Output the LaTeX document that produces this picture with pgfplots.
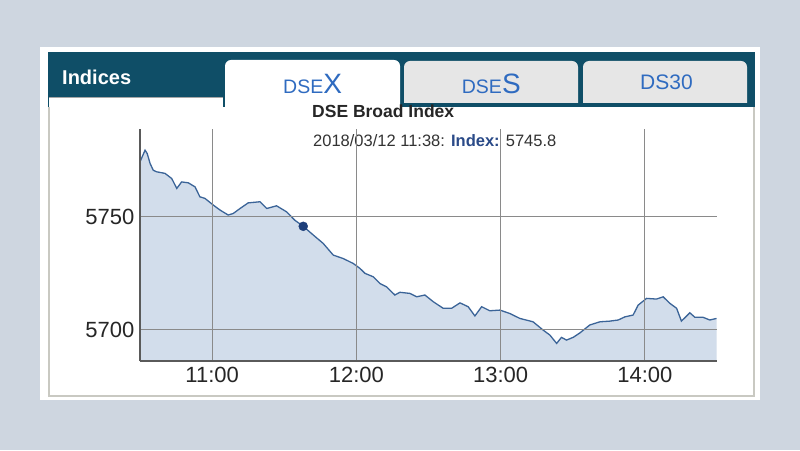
\documentclass[border=0pt]{standalone}
\usepackage{fontspec}
\setmainfont{Liberation Sans}
\usepackage{pgfplots}
\usepackage{pgfplotstable}
\pgfplotsset{compat=1.18}
\definecolor{bg}{HTML}{CED6E0}
\definecolor{tealbar}{HTML}{0F4E67}
\definecolor{tabgray}{HTML}{E6E6E6}
\definecolor{tabblue}{HTML}{2F6BC0}
\definecolor{linec}{HTML}{3B6498}
\definecolor{fillc}{HTML}{D2DDEB}
\definecolor{dotc}{HTML}{1E3F7A}
\definecolor{gridc}{HTML}{8A8A8A}
\definecolor{axisc}{HTML}{5A5A5A}
\definecolor{borderc}{HTML}{C9C9C2}
\definecolor{idxblue}{HTML}{2A4A88}

% minutes after 10:30, DSEX value
\pgfplotstableread{
t v
0 5774.4
2.1 5779.6
3.0 5778.1
4.2 5773.7
5.5 5770.7
6.9 5770.0
10.4 5769.3
13.2 5767.0
15.3 5762.6
17.3 5765.5
20.1 5765.1
22.9 5763.3
24.9 5758.9
27.0 5758.2
30.5 5755.2
33.3 5753.0
36.7 5750.8
38.8 5751.5
41.6 5753.7
45.0 5756.2
49.9 5756.7
52.7 5753.7
56.8 5754.9
61.0 5752.2
64.4 5748.5
67.9 5745.8
72.1 5741.9
76.2 5738.2
80.4 5733.0
84.5 5731.5
88.7 5729.3
91.5 5727.1
93.6 5724.9
97.0 5723.4
99.8 5720.4
102.6 5718.9
106.0 5715.3
108.1 5716.5
112.3 5716.0
115.1 5714.5
118.5 5715.3
122.0 5712.3
126.1 5709.4
129.6 5709.4
133.1 5711.8
136.5 5710.1
139.3 5706.0
142.1 5710.1
145.5 5708.3
149.7 5708.6
153.8 5707.1
158.0 5704.9
163.5 5703.4
167.7 5699.7
170.5 5697.5
173.3 5693.8
175.3 5696.5
177.4 5695.3
180.2 5696.5
183.0 5698.5
187.1 5702.0
191.3 5703.4
195.4 5703.7
198.9 5704.2
201.7 5705.6
205.1 5706.4
207.2 5710.8
210.7 5713.8
214.8 5713.5
217.6 5714.5
220.4 5711.6
223.2 5709.4
225.2 5703.7
228.7 5707.4
230.8 5705.4
234.2 5705.4
237.0 5704.2
239.8 5704.9
}\idx

\begin{document}
\begin{tikzpicture}[x=1pt,y=1pt]
\useasboundingbox (0,0) rectangle (800,450);
\fill[bg] (0,0) rectangle (800,450);
\fill[white] (40,50) rectangle (760,403);
\fill[tealbar] (48,343) rectangle (755,398);
\fill[white] (49,54) rectangle (754,343);
\draw[borderc, line width=1.2pt] (49,343) -- (49,54) -- (754,54) -- (754,343);
\fill[white] (49,343) rectangle (223,352);
\draw[gray!70, line width=1pt] (49,352.5) -- (223,352.5);
% active tab
\fill[white, rounded corners=6pt] (225,330) -- (225,390) -- (400,390) -- (400,330) -- cycle;
% inactive tabs
\fill[tabgray] (404,347) -- (404,383) arc[start angle=180,end angle=90,radius=6] -- (572,389) arc[start angle=90,end angle=0,radius=6] -- (578,347) -- cycle;
\fill[tabgray] (583,347) -- (583,383) arc[start angle=180,end angle=90,radius=6] -- (741,389) arc[start angle=90,end angle=0,radius=6] -- (747,347) -- cycle;
% texts
\node[anchor=base west, inner sep=0, text=white, font=\fontsize{20}{24}\selectfont\bfseries] at (62,365) {Indices};
\node[anchor=base west, inner sep=0, text=tabblue] at (283,356.7) {\fontsize{19.5}{22}\selectfont DSE\fontsize{28}{30}\selectfont X};
\node[anchor=base west, inner sep=0, text=tabblue] at (461.7,356.7) {\fontsize{19.5}{22}\selectfont DSE\fontsize{28}{30}\selectfont S};
\node[anchor=base west, inner sep=0, text=tabblue, font=\fontsize{21}{24}\selectfont] at (640,360) {DS30};
\node[anchor=base west, inner sep=0, text=black!85, font=\fontsize{17.5}{20}\selectfont\bfseries] at (312,332) {DSE Broad Index};
\node[anchor=base west, inner sep=0, text=black!80, font=\fontsize{16.5}{19}\selectfont] at (313,303.5) {2018/03/12 11:38: \textbf{\color{idxblue}Index:} 5745.8};

\begin{axis}[
  at={(140pt,89pt)}, anchor=south west, scale only axis,
  width=577pt, height=232pt,
  xmin=0, xmax=240, ymin=5686, ymax=5789,
  axis x line=bottom, axis y line=left,
  axis line style={-, axisc, line width=1.5pt},
  xtick={30,90,150,210}, xticklabels={11:00,12:00,13:00,14:00},
  ytick={5700,5750},
  grid=major, major grid style={gridc, line width=1.1pt},
  tick style={draw=none},
  ticklabel style={font=\fontsize{22}{24}\selectfont, text=black!85},
  /pgf/number format/assume math mode=true,
  /pgf/number format/set thousands separator={},
  axis on top,
]
\addplot[fill=fillc, draw=none] table[x=t, y=v] {\idx} \closedcycle;
\addplot[linec, line width=1.3pt] table[x=t, y=v] {\idx};
\addplot[only marks, mark=*, mark size=4.5pt, dotc] coordinates {(67.9,5745.8)};
\end{axis}
\end{tikzpicture}
\end{document}
